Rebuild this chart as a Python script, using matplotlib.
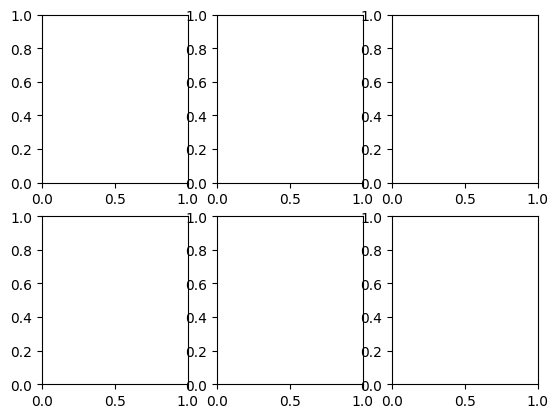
import matplotlib
matplotlib.use('Agg')
import matplotlib.pyplot as plt

# --- 2x3 empty grid ---
n_rows = 2
n_cols = 3

fig, axes = plt.subplots(n_rows, n_cols)
fig.savefig('out.png', bbox_inches='tight')
